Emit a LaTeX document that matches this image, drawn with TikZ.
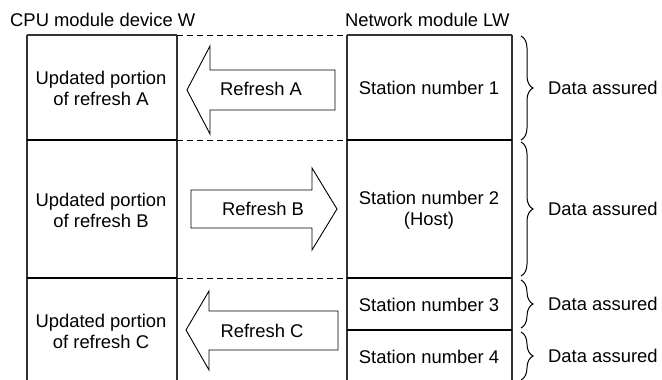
\documentclass[tikz,border=0pt]{standalone}
\usepackage{fontspec}
\setmainfont{Liberation Sans}
\usetikzlibrary{decorations.pathreplacing}
\begin{document}
\begin{tikzpicture}[x=1pt,y=-1pt,
  every node/.style={font=\fontsize{18.4}{21}\selectfont, inner sep=0pt, align=center},
  vline/.style={line width=1.5pt, draw=black!80},
  hline/.style={line width=2pt},
  dline/.style={line width=1pt, dash pattern=on 6pt off 4pt},
  blockarrow/.style={draw, line width=0.9pt, fill=white, line join=miter},
  bracestyle/.style={decorate, decoration={brace, amplitude=12pt}, line width=1pt}]
\useasboundingbox (0,0) rectangle (662,380);

% column coordinates
\coordinate (a1) at (27,35);  \coordinate (a2) at (27,380);
\coordinate (b1) at (177,35); \coordinate (b2) at (177,380);
\coordinate (c1) at (347,35); \coordinate (c2) at (347,380);
\coordinate (d1) at (512,35); \coordinate (d2) at (512,380);

% vertical lines
\draw[vline] (a1) -- (a2);
\draw[vline] (b1) -- (b2);
\draw[vline] (c1) -- (c2);
\draw[vline] (d1) -- (d2);

% top edges
\draw[vline] (a1) -- (b1);
\draw[vline] (c1) -- (d1);
\draw[dline] (b1) -- (c1);

% row separators
\coordinate (r1a) at (27,140);  \coordinate (r1b) at (177,140);
\coordinate (r1c) at (347,140); \coordinate (r1d) at (512,140);
\coordinate (r2a) at (27,278);  \coordinate (r2b) at (177,278);
\coordinate (r2c) at (347,278); \coordinate (r2d) at (512,278);
\coordinate (r3c) at (347,330); \coordinate (r3d) at (512,330);
\draw[hline] (r1a) -- (r1b);
\draw[hline] (r1c) -- (r1d);
\draw[dline] (r1b) -- (r1c);
\draw[hline] (r2a) -- (r2b);
\draw[hline] (r2c) -- (r2d);
\draw[dline] (r2b) -- (r2c);
\draw[hline] (r3c) -- (r3d);

% headings
\node[anchor=base west] (cpu) at (10,27) {CPU module device W};
\node[anchor=base west] (net) at (345,27) {Network module LW};

% left column texts
\node (updA) at (101,88) {Updated portion\\of refresh A};
\node (updB) at (101,210) {Updated portion\\of refresh B};
\node (updC) at (101,331) {Updated portion\\of refresh C};

% right column texts
\node (st1) at (429,88) {Station number 1};
\node (st2) at (429,210) {Station number 2\\(Host)};
\node (st3) at (429,305) {Station number 3};
\node (st4) at (429,357) {Station number 4};

% block arrows
\draw[blockarrow] (187,90) -- (210,46) -- (210,70) -- (335,70) -- (335,110)
  -- (210,110) -- (210,134) -- cycle;
\node (refA) at (261,89) {Refresh A};
\draw[blockarrow] (337,209) -- (312,168) -- (312,190) -- (191,190) -- (191,228)
  -- (312,228) -- (312,250) -- cycle;
\node (refB) at (263,209) {Refresh B};
\draw[blockarrow] (186,330) -- (209,291) -- (209,311) -- (338,311) -- (338,350)
  -- (209,350) -- (209,370) -- cycle;
\node (refC) at (262,331) {Refresh C};

% braces
\coordinate (br1t) at (521,36);  \coordinate (br1b) at (521,140);
\coordinate (br2t) at (521,142); \coordinate (br2b) at (521,276);
\coordinate (br3t) at (521,280); \coordinate (br3b) at (521,328);
\coordinate (br4t) at (521,332); \coordinate (br4b) at (521,380);
\draw[bracestyle] (br1t) -- (br1b);
\draw[bracestyle] (br2t) -- (br2b);
\draw[bracestyle] (br3t) -- (br3b);
\draw[bracestyle] (br4t) -- (br4b);
\node[anchor=west] (da1) at (548,88) {Data assured};
\node[anchor=west] (da2) at (548,209) {Data assured};
\node[anchor=west] (da3) at (548,304) {Data assured};
\node[anchor=west] (da4) at (548,356) {Data assured};
\end{tikzpicture}
\end{document}
